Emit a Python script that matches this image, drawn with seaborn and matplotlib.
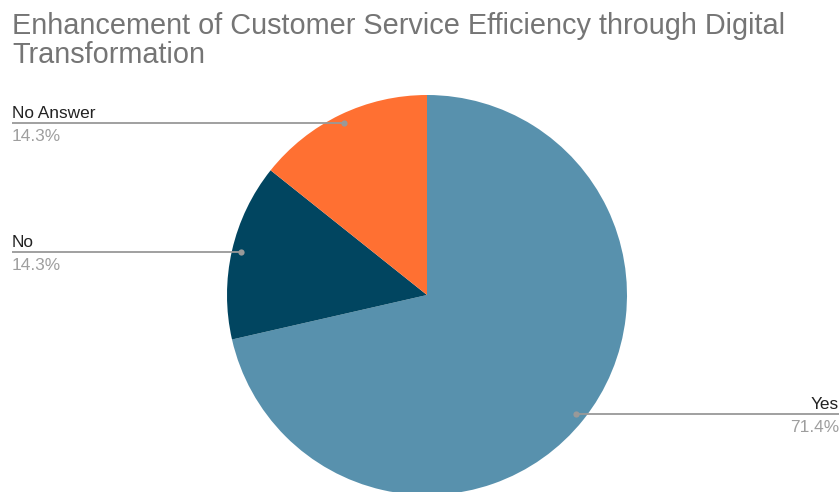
import numpy as np
import matplotlib
matplotlib.use('Agg')
import matplotlib.pyplot as plt
import seaborn as sns

# data
labels = ['Yes', 'No', 'No Answer']
counts = [5, 1, 1]
title = 'Enhancement of Customer Service Efficiency through Digital\nTransformation'

sns.set_theme(style='white')
plt.rcParams['font.family'] = ['Liberation Sans', 'DejaVu Sans']

colors = sns.color_palette(['#5891AD', '#014560', '#FF7032'])

W, H = 840, 492
fig = plt.figure(figsize=(W / 100, H / 100), dpi=100)
ax = fig.add_axes([0, 0, 1, 1])

wedges, _ = ax.pie(counts, colors=colors, startangle=90, counterclock=False,
                   center=(427, H - 295), radius=200,
                   wedgeprops=dict(linewidth=0))
ax.set_xlim(0, W)
ax.set_ylim(0, H)
ax.set_aspect('auto')
ax.axis('off')

total = sum(counts)
for w, lab, c in zip(wedges, labels, counts):
    mid = np.deg2rad((w.theta1 + w.theta2) / 2)
    cx, cy = w.center
    dx = cx + 0.955 * w.r * np.cos(mid)
    dy = cy + 0.955 * w.r * np.sin(mid)
    pct = f'{c / total * 100:.1f}%'
    if dx < cx:
        x0, x1, tx, ha = 12, dx, 12, 'left'
    else:
        x0, x1, tx, ha = dx, 839, 839, 'right'
    ax.plot([x0, x1], [dy, dy], color='#999999', lw=1.3, solid_capstyle='butt')
    ax.plot(dx, dy, 'o', color='#999999', ms=4.5, mec='none')
    ax.text(tx, dy + 5, lab, ha=ha, va='baseline', fontsize=12.4, color='#222222')
    ax.text(tx, dy - 6, pct, ha=ha, va='top', fontsize=12.4, color='#9e9e9e')

ax.text(12, H - 12, title, ha='left', va='top', fontsize=20.8,
        color='#757575', linespacing=1.05)

fig.savefig('out.png', dpi=100)
